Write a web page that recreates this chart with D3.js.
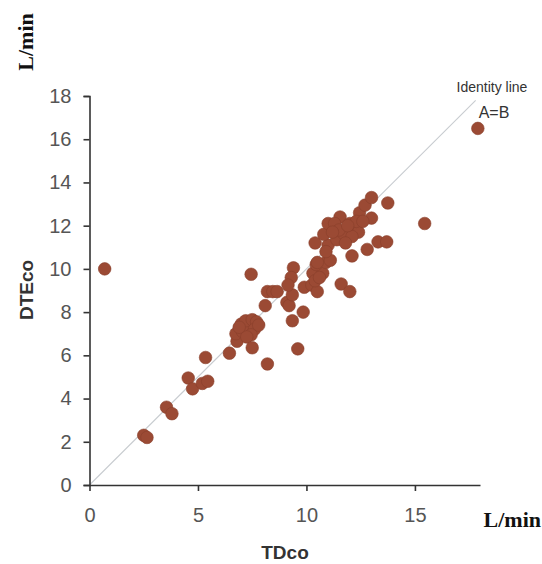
<!DOCTYPE html>
<html>
<head>
<meta charset="utf-8">
<title>DTEco vs TDco</title>
<style type="text/css">
    body{ margin:0; background:#fff; }
    .tick text{ font-family:Arial, "Liberation Sans", sans-serif; font-size:20px; fill:#555; }
    .axis path, .axis line{ stroke:#333; stroke-width:1.6; }
</style>
</head>
<body>
<div id="chart"></div>
<script src="https://cdn.jsdelivr.net/npm/d3@7"></script>
<script type="text/javascript">

// TDco (x) and DTEco (y), L/min
var tdco = [0.7, 2.5, 2.65, 3.55, 3.8, 4.55, 4.75, 5.2, 5.45, 5.35,
            6.45, 6.8, 6.75, 7.05, 7.0, 7.3, 7.2, 7.5, 7.7, 7.6,
            7.45, 7.8, 7.25, 6.9, 7.5, 8.2, 7.45, 8.1, 8.2, 8.45,
            8.65, 9.1, 9.2, 9.35, 9.35, 9.85, 9.6, 9.4, 9.3, 9.15,
            9.9, 10.25, 10.5, 10.3, 10.75, 10.4, 10.45, 10.9, 10.5, 10.6,
            10.4, 11.0, 10.8, 11.4, 11.7, 11.0, 11.55, 11.3, 12.0, 12.2,
            12.4, 12.1, 12.45, 12.7, 13.0, 13.75, 13.0, 11.6, 12.0, 12.1,
            12.8, 13.3, 13.7, 15.45, 17.9, 11.1, 11.8, 12.3, 11.5, 12.6,
            11.2, 10.9, 11.9];
var dteco = [10.0, 2.3, 2.2, 3.6, 3.3, 4.95, 4.45, 4.7, 4.8, 5.9,
             6.1, 6.65, 7.0, 7.1, 7.45, 7.3, 7.6, 7.65, 7.55, 7.2,
             6.95, 7.4, 6.85, 7.3, 6.35, 5.6, 9.75, 8.3, 8.95, 8.95,
             8.95, 8.45, 8.3, 8.8, 7.6, 8.0, 6.3, 10.05, 9.6, 9.25,
             9.15, 9.25, 8.95, 9.8, 9.8, 9.45, 10.2, 10.3, 10.3, 9.6,
             11.2, 11.1, 11.6, 11.35, 11.65, 12.1, 12.4, 12.1, 12.1, 11.8,
             11.7, 11.5, 12.6, 12.95, 13.3, 13.05, 12.35, 9.3, 8.95, 10.6,
             10.9, 11.25, 11.25, 12.1, 16.5, 10.4, 11.2, 12.2, 11.8, 12.2,
             11.7, 10.8, 12.0];

var xTicks = [0, 5, 10, 15];
var yTicks = [0, 2, 4, 6, 8, 10, 12, 14, 16, 18];
var identity = [0, 17.8];

var width = 542, height = 564;

var svg = d3.select('#chart').append('svg')
    .attr('width', width)
    .attr('height', height);

var x = d3.scaleLinear().domain([0, 18]).range([89.5, 480]);
var y = d3.scaleLinear().domain([0, 18]).range([485, 96]);

// identity line A=B
svg.append('line')
    .attr('x1', x(identity[0])).attr('y1', y(identity[0]))
    .attr('x2', x(identity[1])).attr('y2', y(identity[1]))
    .style('stroke', '#c8ccd0')
    .style('stroke-width', 1.1);

svg.append('g').attr('class', 'axis')
    .attr('transform', 'translate(0,485)')
    .call(d3.axisBottom(x).tickValues(xTicks).tickSize(6).tickSizeOuter(0).tickPadding(17));

svg.append('g').attr('class', 'axis')
    .attr('transform', 'translate(89.5,0)')
    .call(d3.axisLeft(y).tickValues(yTicks).tickSize(6).tickPadding(12));

var points = tdco.map((d, i) => [d, dteco[i]]);

svg.append('g').selectAll('circle')
    .data(points)
    .enter()
    .append('circle')
    .attr('cx', d => x(d[0]))
    .attr('cy', d => y(d[1]))
    .attr('r', 6.3)
    .style('fill', '#9b4a34')
    .style('stroke', '#8a3f2b')
    .style('stroke-width', 0.6);

// labels
svg.append('text').text('Identity line')
    .attr('x', 492).attr('y', 92)
    .attr('text-anchor', 'middle')
    .style('font-family', 'Arial, sans-serif').style('font-size', '14px').style('fill', '#333');
svg.append('text').text('A=B')
    .attr('x', 494).attr('y', 118)
    .attr('text-anchor', 'middle')
    .style('font-family', 'Arial, sans-serif').style('font-size', '16px').style('fill', '#333');

svg.append('text').text('TDco')
    .attr('x', 285).attr('y', 559)
    .attr('text-anchor', 'middle')
    .style('font-family', 'Arial, sans-serif').style('font-weight', 'bold')
    .style('font-size', '19px').style('fill', '#333');

svg.append('text').text('DTEco')
    .attr('transform', 'translate(33,290) rotate(-90)')
    .attr('text-anchor', 'middle')
    .style('font-family', 'Arial, sans-serif').style('font-weight', 'bold')
    .style('font-size', '19px').style('fill', '#333');

svg.append('text').text('L/min')
    .attr('x', 541).attr('y', 527)
    .attr('text-anchor', 'end')
    .style('font-family', '"Liberation Serif", "Times New Roman", serif').style('font-weight', 'bold')
    .style('font-size', '22px').style('fill', '#111');

svg.append('text').text('L/min')
    .attr('transform', 'translate(33,42) rotate(-90)')
    .attr('text-anchor', 'middle')
    .style('font-family', '"Liberation Serif", "Times New Roman", serif').style('font-weight', 'bold')
    .style('font-size', '22px').style('fill', '#111');

</script>
</body>
</html>
